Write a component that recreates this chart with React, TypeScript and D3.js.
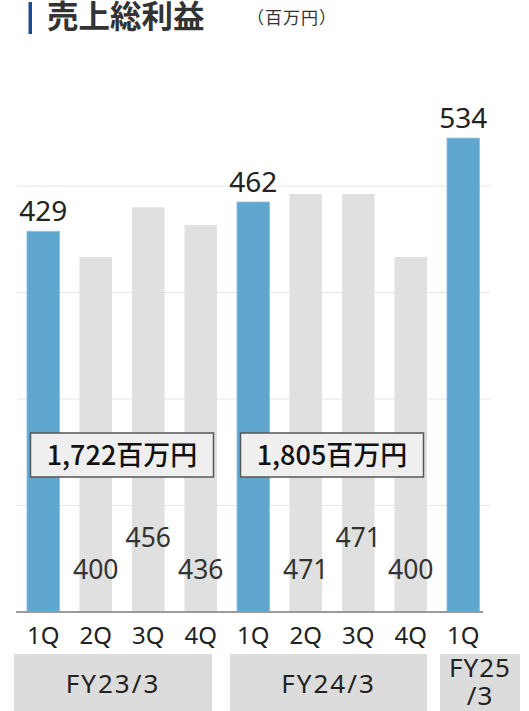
import React from "react";
import * as d3 from "d3";

const quarters = ["1Q", "2Q", "3Q", "4Q", "1Q", "2Q", "3Q", "4Q", "1Q"];
const values = [429, 400, 456, 436, 462, 471, 471, 400, 534];
const highlighted = [true, false, false, false, true, false, false, false, true];
const fiscalYears = ["FY23/3", "FY24/3", "FY25\n/3"];
const fiscalStart = [0, 4, 8];
const fiscalEnd = [3, 7, 8];
const totals = ["1,722百万円", "1,805百万円"];
const gridValues = [120, 240, 360, 480];

const W = 529;
const H = 711;
const FONT = "'Noto Sans', 'Noto Sans CJK JP', sans-serif";
const JP = "'Noto Sans CJK JP', 'Noto Sans', sans-serif";
// layout: fiscal-year box edges (px)
const GROUP_BOX_EDGES: [number, number][] = [
  [14, 212],
  [230, 427],
  [440, 520],
];

export default function App() {
  const x = d3
    .scaleBand<number>()
    .domain(d3.range(values.length))
    .range([17, 489.5])
    .paddingInner(0.38)
    .paddingOuter(0.19);
  const y = d3.scaleLinear().domain([0, 600]).range([612, 79.5]);
  const bw = x.bandwidth();
  const cx = (i: number) => (x(i) as number) + bw / 2;

  return (
    <svg
      width={W}
      height={H}
      style={{ position: "absolute", left: 0, top: 0, background: "#fff" }}
    >
      {/* title */}
      <rect x={28.5} y={2} width={3.5} height={32} fill="#1d4b8f" />
      <text x={47} y={28} fontFamily={JP} fontWeight={700} fontSize={31.5} fill="#333">
        売上総利益
      </text>
      <text x={247} y={24} fontFamily={JP} fontSize={17} letterSpacing={1} fill="#333">
        （百万円）
      </text>

      {/* grid */}
      {gridValues.map((g) => (
        <line key={g} x1={17} x2={490} y1={y(g)} y2={y(g)} stroke="#e6e6e6" strokeWidth={1} />
      ))}

      {/* bars */}
      {values.map((v, i) => (
        <rect
          key={i}
          x={x(i)}
          y={y(v)}
          width={bw}
          height={y(0) - y(v)}
          fill={highlighted[i] ? "#5fa7cf" : "#e0e0e0"}
          stroke={highlighted[i] ? "#8cc2e0" : "none"}
          strokeWidth={0.8}
        />
      ))}

      {/* baseline */}
      <line x1={16} x2={483} y1={y(0)} y2={y(0)} stroke="#9a9a9a" strokeWidth={2} />

      {/* value labels */}
      {values.map((v, i) =>
        highlighted[i] ? (
          <text key={i} x={cx(i)} y={y(v) - 10} textAnchor="middle" fontFamily={FONT} fontSize={28} fill="#222">
            {v}
          </text>
        ) : (
          <text
            key={i}
            x={cx(i)}
            y={quarters[i] === "3Q" ? 547 : 579}
            textAnchor="middle"
            fontFamily={FONT}
            fontSize={26.5}
            fill="#333"
          >
            {v}
          </text>
        )
      )}

      {/* totals */}
      {totals.map((t, k) => {
        const s = fiscalStart[k];
        const e = fiscalEnd[k];
        const mid = ((x(s) as number) + (x(e) as number) + bw) / 2;
        return (
          <g key={k}>
            <rect x={mid - 91.5} y={433} width={183} height={44} fill="#efefef" stroke="#555" strokeWidth={1.5} />
            <text x={mid} y={464.5} textAnchor="middle" fontFamily={JP} fontWeight={500} fontSize={27} fill="#111">
              {t}
            </text>
          </g>
        );
      })}

      {/* quarter labels */}
      {quarters.map((q, i) => (
        <text key={i} x={cx(i)} y={644} textAnchor="middle" fontFamily={FONT} fontSize={24} fill="#222">
          {q}
        </text>
      ))}

      {/* fiscal year boxes */}
      {fiscalYears.map((f, k) => {
        const [x0, x1] = GROUP_BOX_EDGES[k];
        const lines = f.split("\n");
        const mid = (x0 + x1) / 2;
        return (
          <g key={k}>
            <rect x={x0} y={654} width={x1 - x0} height={H - 654} fill="#dcdcdc" />
            {lines.length === 1 ? (
              <text x={mid} y={693} textAnchor="middle" fontFamily={FONT} fontSize={26} letterSpacing={2} fill="#222">
                {lines[0]}
              </text>
            ) : (
              lines.map((l, j) => (
                <text key={j} x={mid} y={677 + j * 28} textAnchor="middle" fontFamily={FONT} fontSize={26} letterSpacing={1} fill="#222">
                  {l}
                </text>
              ))
            )}
          </g>
        );
      })}
    </svg>
  );
}
